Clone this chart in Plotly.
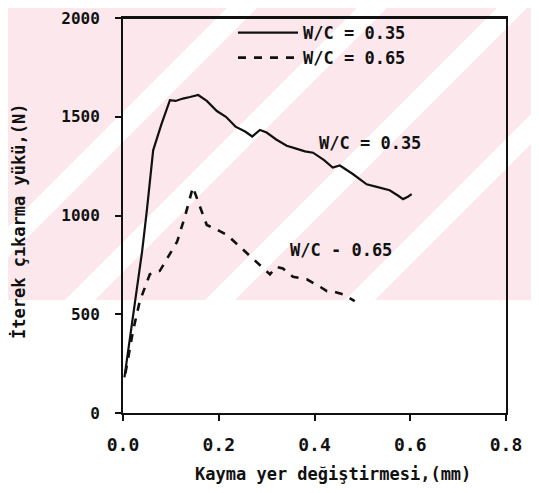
import plotly.graph_objects as go

# ---- data ----
disp_035 = [0.003, 0.012, 0.020, 0.030, 0.040, 0.050, 0.063, 0.080, 0.098, 0.110, 0.125,
            0.140, 0.157, 0.175, 0.196, 0.215, 0.235, 0.255, 0.270, 0.286, 0.300, 0.320,
            0.342, 0.360, 0.380, 0.397, 0.420, 0.438, 0.453, 0.480, 0.509, 0.530, 0.557,
            0.575, 0.585, 0.595, 0.603]
load_035 = [180, 330, 480, 640, 820, 1030, 1330, 1460, 1584, 1580, 1592,
            1600, 1610, 1580, 1529, 1500, 1450, 1425, 1400, 1433, 1420, 1385,
            1353, 1340, 1325, 1318, 1280, 1243, 1253, 1210, 1158, 1145, 1128,
            1100, 1083, 1095, 1108]

disp_065 = [0.005, 0.021, 0.035, 0.056, 0.077, 0.095, 0.113, 0.130, 0.146, 0.160, 0.175,
            0.195, 0.217, 0.245, 0.271, 0.290, 0.307, 0.320, 0.334, 0.355, 0.384, 0.411,
            0.426, 0.438, 0.460, 0.484]
load_065 = [200, 416, 566, 702, 720, 790, 867, 1000, 1143, 1050, 952,
            930, 902, 840, 782, 740, 702, 740, 732, 690, 677, 640,
            617, 617, 600, 566]

series_names = ["W/C = 0.35", "W/C = 0.65"]
x_ticks = [0.0, 0.2, 0.4, 0.6, 0.8]
x_tick_text = ["0.0", "0.2", "0.4", "0.6", "0.8"]
y_ticks = [0, 500, 1000, 1500, 2000]
y_tick_text = ["0", "500", "1000", "1500", "2000"]
x_title = "Kayma yer değiştirmesi,(mm)"
y_title = "İterek çıkarma yükü,(N)"
curve_labels = ["W/C = 0.35", "W/C - 0.65"]

W, H = 539, 493          # window size
OFF = 8                  # default page body margin
L, R, T, B = 123, 506, 18, 413   # plot area in window pixels

def fx(px):
    return (px - L) / (R - L)

def fy(py):
    return (B - py) / (B - T)

FONT = "DejaVu Sans Mono"
INK = "#111111"

fig = go.Figure()
fig.add_trace(go.Scatter(x=disp_035, y=load_035, mode="lines", name=series_names[0],
                         line=dict(color=INK, width=2.2)))
fig.add_trace(go.Scatter(x=disp_065, y=load_065, mode="lines", name=series_names[1],
                         line=dict(color=INK, width=2.6, dash="8px,8px")))

# watermark-like background (pink band with white diagonal stripes)
shapes = []
pink_top = 300
shapes.append(dict(type="path", xref="paper", yref="paper", layer="below",
                   path=f"M {fx(0)},{fy(0)} L {fx(W)},{fy(0)} L {fx(W)},{fy(pink_top)} L {fx(0)},{fy(pink_top)} Z",
                   fillcolor="#fce8ec", line=dict(width=0)))
for c in [250, 380, 520, 660]:
    w = 30
    pts = [(c - w / 2, 0), (c + w / 2, 0), (c + w / 2 - pink_top, pink_top), (c - w / 2 - pink_top, pink_top)]
    path = "M " + " L ".join(f"{fx(a)},{fy(b)}" for a, b in pts) + " Z"
    shapes.append(dict(type="path", xref="paper", yref="paper", layer="below",
                       path=path, fillcolor="white", line=dict(width=0)))
# top frame line
shapes.append(dict(type="line", xref="paper", yref="paper", layer="above",
                   x0=0, x1=1, y0=1, y1=1, line=dict(color=INK, width=2)))

annotations = [
    dict(x=fx(18), y=fy(222), xref="paper", yref="paper", text=y_title, showarrow=False,
         xanchor="center", yanchor="middle",
         textangle=-90, font=dict(family=FONT, size=17, color=INK, weight="bold")),
    dict(x=fx(333), y=fy(474), xref="paper", yref="paper", text=x_title, showarrow=False,
         xanchor="center", yanchor="middle",
         font=dict(family=FONT, size=17, color=INK, weight="bold")),
    dict(x=0.405, y=1368, xref="x", yref="y", text=curve_labels[0], showarrow=False,
         xanchor="left", yanchor="middle", font=dict(family=FONT, size=17, color=INK, weight="bold")),
    dict(x=0.344, y=827, xref="x", yref="y", text=curve_labels[1], showarrow=False,
         xanchor="left", yanchor="middle", font=dict(family=FONT, size=17, color=INK, weight="bold")),
]

fig.update_layout(
    width=W - OFF, height=H - OFF,
    margin=dict(l=L - OFF, r=W - R, t=T - OFF, b=H - B, autoexpand=False),
    paper_bgcolor="white", plot_bgcolor="rgba(0,0,0,0)",
    shapes=shapes, annotations=annotations,
    showlegend=True,
    legend=dict(x=fx(233), y=fy(15), xanchor="left", yanchor="top",
                bgcolor="rgba(0,0,0,0)", font=dict(family=FONT, size=17, color=INK, weight="bold"),
                tracegroupgap=0, itemwidth=60),
    xaxis=dict(range=[0, 0.8], tickvals=x_ticks, ticktext=x_tick_text, showgrid=False, zeroline=False,
               automargin=False, ticklabeloverflow="allow",
               showline=True, linecolor=INK, linewidth=2, mirror=True,
               ticks="outside", ticklen=6, tickwidth=2, tickcolor=INK, ticklabelstandoff=8,
               tickfont=dict(family=FONT, size=18, color=INK, weight="bold")),
    yaxis=dict(range=[0, 2000], tickvals=y_ticks, ticktext=y_tick_text, showgrid=False, zeroline=False,
               automargin=False, ticklabeloverflow="allow",
               showline=True, linecolor=INK, linewidth=2, mirror=True,
               ticks="outside", ticklen=6, tickwidth=2, tickcolor=INK, ticklabelstandoff=12,
               tickfont=dict(family=FONT, size=16, color=INK, weight="bold")),
)

fig.write_html("out.html")
